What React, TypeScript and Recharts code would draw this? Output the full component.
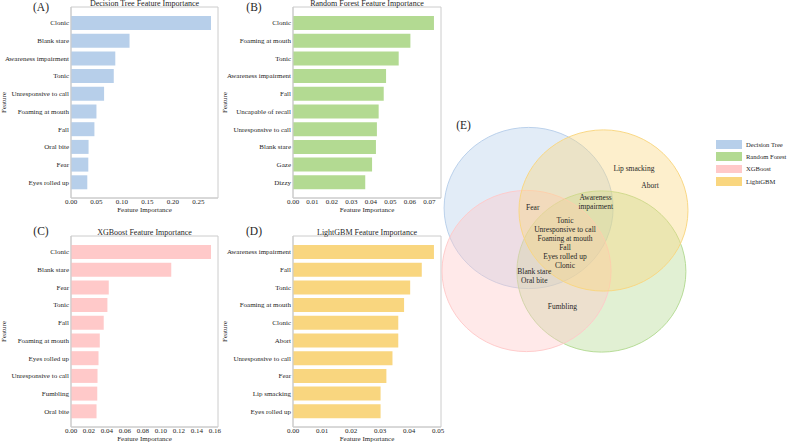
import React from 'react';
import { BarChart, Bar, XAxis, YAxis, CartesianGrid, ScatterChart, Scatter, Legend } from 'recharts';

const FONT = '"Liberation Serif", "Times New Roman", Times, serif';
const INK = '#262626';
const SPINE = '#cccccc';

// (A) Decision Tree
const dtFeatures = ['Clonic', 'Blank stare', 'Awareness impairment', 'Tonic', 'Unresponsive to call', 'Foaming at mouth', 'Fall', 'Oral bite', 'Fear', 'Eyes rolled up'];
const dtImportance = [0.275, 0.115, 0.087, 0.084, 0.065, 0.05, 0.046, 0.0345, 0.034, 0.032];
const dtTicks = [0, 0.05, 0.1, 0.15, 0.2, 0.25];

// (B) Random Forest
const rfFeatures = ['Clonic', 'Foaming at mouth', 'Tonic', 'Awareness impairment', 'Fall', 'Uncapable of recall', 'Unresponsive to call', 'Blank stare', 'Gaze', 'Dizzy'];
const rfImportance = [0.0724, 0.0603, 0.0543, 0.0478, 0.0466, 0.044, 0.0431, 0.0426, 0.0406, 0.0371];
const rfTicks = [0, 0.01, 0.02, 0.03, 0.04, 0.05, 0.06, 0.07];

// (C) XGBoost
const xgbFeatures = ['Clonic', 'Blank stare', 'Fear', 'Tonic', 'Fall', 'Foaming at mouth', 'Eyes rolled up', 'Unresponsive to call', 'Fumbling', 'Oral bite'];
const xgbImportance = [0.1557, 0.1115, 0.042, 0.0405, 0.0364, 0.032, 0.0306, 0.0295, 0.0292, 0.0284];
const xgbTicks = [0, 0.02, 0.04, 0.06, 0.08, 0.1, 0.12, 0.14, 0.16];

// (D) LightGBM
const lgbmFeatures = ['Awareness impairment', 'Fall', 'Tonic', 'Foaming at mouth', 'Clonic', 'Abort', 'Unresponsive to call', 'Fear', 'Lip smacking', 'Eyes rolled up'];
const lgbmImportance = [0.0486, 0.0444, 0.0404, 0.0383, 0.0363, 0.0363, 0.0343, 0.0322, 0.0302, 0.0302];
const lgbmTicks = [0, 0.01, 0.02, 0.03, 0.04, 0.05];

const models = ['Decision Tree', 'Random Forest', 'XGBoost', 'LightGBM'];
const modelColors = ['#b7cfea', '#b3da92', '#ffc9c9', '#f9d67f'];

// (E) features shared between the top-10 lists, grouped by Venn region
const vennRegions = [
  ['Lip smacking'],
  ['Abort'],
  ['Awareness', 'impairment'],
  ['Fear'],
  ['Tonic', 'Unresponsive to call', 'Foaming at mouth', 'Fall', 'Eyes rolled up', 'Clonic'],
  ['Blank stare', 'Oral bite'],
  ['Fumbling'],
];

// venn layout (data units of the venn plot)
const VX = 26;
const VY = 24.8;
const VENN_W = 352;
const VENN_H = 248;
const vennCircles = [
  { x: 3.6, y: 6.29 },
  { x: 6.4, y: 3.73 },
  { x: 3.52, y: 3.75 },
  { x: 6.48, y: 6.19 },
];
const VENN_R = 3.25;
const vennLabelSpots = [
  { x: 7.65, y: 7.9 },
  { x: 8.27, y: 7.22 },
  { x: 6.18, y: 6.55 },
  { x: 3.76, y: 6.32 },
  { x: 5.0, y: 4.88 },
  { x: 3.82, y: 3.56 },
  { x: 4.9, y: 2.31 },
];
const LINE_H = 8.9;

const XTick = (props: any) => {
  const { x, y, payload } = props;
  return (
    <text x={x} y={y} dy="0.71em" textAnchor="middle" fontSize={7} fill={INK} fontFamily={FONT}>
      {Number(payload.value).toFixed(2)}
    </text>
  );
};

const YTick = (props: any) => {
  const { x, y, payload } = props;
  return (
    <text x={x} y={y} dy="0.35em" textAnchor="end" fontSize={7} fill={INK} fontFamily={FONT}>
      {payload.value}
    </text>
  );
};

const frameH = (p: any) => [p.offset.top, p.offset.top + p.offset.height];
const frameV = (p: any) => [p.offset.left, p.offset.left + p.offset.width];

type PanelProps = {
  title: string;
  letter: string;
  letterPos: [number, number];
  features: string[];
  values: number[];
  ticks: number[];
  color: string;
  left: number;
  top: number;
  width: number;
  yAxisWidth: number;
};

const Panel = ({ title, letter, letterPos, features, values, ticks, color, left, top, width, yAxisWidth }: PanelProps) => {
  const data = features.map((f, i) => ({ feature: f, value: values[i] }));
  const plotCenter = left + yAxisWidth + (width - yAxisWidth - 7) / 2;
  return (
    <>
      <div style={{ position: 'absolute', left, top }}>
        <BarChart width={width} height={215} data={data} layout="vertical" margin={{ top: 7, right: 7, bottom: 0, left: 0 }}>
          <CartesianGrid
            stroke={SPINE}
            horizontalCoordinatesGenerator={frameH}
            verticalCoordinatesGenerator={frameV}
          />
          <XAxis
            type="number"
            dataKey="value"
            domain={[0, (m: number) => m * 1.05]}
            ticks={ticks}
            interval={0}
            height={17}
            tickSize={0}
            tickMargin={1}
            tickLine={false}
            axisLine={{ stroke: SPINE }}
            tick={<XTick />}
            label={{ value: 'Feature Importance', position: 'insideBottom', offset: 3, fontSize: 7, fill: INK, fontFamily: FONT }}
          />
          <YAxis
            type="category"
            dataKey="feature"
            width={yAxisWidth}
            interval={0}
            tickSize={0}
            tickMargin={2}
            tickLine={false}
            axisLine={{ stroke: SPINE }}
            padding={{ top: 7, bottom: 7 }}
            tick={<YTick />}
            label={(p: any) => {
              const vb = p.viewBox || { x: 0, y: 7, height: 191 };
              const cx = vb.x + 6;
              const cy = vb.y + vb.height / 2;
              return (
                <text x={cx} y={cy} transform={`rotate(-90, ${cx}, ${cy})`} textAnchor="middle" fontSize={7} fill={INK} fontFamily={FONT}>
                  Feature
                </text>
              );
            }}
          />
          <Bar dataKey="value" fill={color} barSize={14} isAnimationActive={false} />
        </BarChart>
      </div>
      <div
        style={{
          position: 'absolute',
          left: plotCenter,
          top: top + 0.3,
          transform: 'translateX(-50%)',
          fontSize: 8,
          lineHeight: 1,
          color: INK,
          fontFamily: FONT,
          whiteSpace: 'nowrap',
        }}
      >
        {title}
      </div>
      <div
        style={{
          position: 'absolute',
          left: letterPos[0],
          top: letterPos[1],
          transform: 'translate(-50%, -50%)',
          fontSize: 11.5,
          lineHeight: 1,
          color: INK,
          fontFamily: FONT,
          whiteSpace: 'nowrap',
        }}
      >
        {letter}
      </div>
    </>
  );
};

const VennLegend = () => (
  <div style={{ fontFamily: FONT, fontSize: 6.6, color: INK }}>
    {models.map((m, i) => (
      <div key={m} style={{ display: 'flex', alignItems: 'center', height: 12.4 }}>
        <span style={{ display: 'inline-block', width: 26.6, height: 8.7, background: modelColors[i], marginRight: 3.7 }} />
        <span style={{ whiteSpace: 'nowrap' }}>{m}</span>
      </div>
    ))}
  </div>
);

const App = () => {
  const labelData = vennRegions.map((lines, i) => ({ ...vennLabelSpots[i], lines }));
  return (
    <div style={{ position: 'absolute', left: 0, top: 0, width: 787, height: 443, background: '#fff', overflow: 'hidden', fontFamily: FONT }}>
      <Panel title="Decision Tree Feature Importance" letter="(A)" letterPos={[41, 8.3]} features={dtFeatures} values={dtImportance} ticks={dtTicks} color={modelColors[0]} left={0} top={0} width={225} yAxisWidth={71} />
      <Panel title="Random Forest Feature Importance" letter="(B)" letterPos={[254, 8]} features={rfFeatures} values={rfImportance} ticks={rfTicks} color={modelColors[1]} left={221} top={0} width={227} yAxisWidth={72} />
      <Panel title="XGBoost Feature Importance" letter="(C)" letterPos={[41, 231.7]} features={xgbFeatures} values={xgbImportance} ticks={xgbTicks} color={modelColors[2]} left={0} top={229} width={225} yAxisWidth={71} />
      <Panel title="LightGBM Feature Importance" letter="(D)" letterPos={[254, 231.7]} features={lgbmFeatures} values={lgbmImportance} ticks={lgbmTicks} color={modelColors[3]} left={221} top={229} width={227} yAxisWidth={72} />

      <div style={{ position: 'absolute', left: 435, top: 116 }}>
        <ScatterChart width={VENN_W} height={VENN_H} margin={{ top: 0, right: 0, bottom: 0, left: 0 }}>
          <XAxis type="number" dataKey="x" domain={[0, VENN_W / VX]} hide />
          <YAxis type="number" dataKey="y" domain={[0, VENN_H / VY]} hide />
          {models.map((m, i) => (
            <Scatter
              key={m}
              name={m}
              data={[vennCircles[i]]}
              fill={modelColors[i]}
              isAnimationActive={false}
              shape={(p: any) => (
                <ellipse
                  cx={p.cx}
                  cy={p.cy}
                  rx={VENN_R * VX}
                  ry={VENN_R * VY}
                  fill={modelColors[i]}
                  fillOpacity={0.4}
                  stroke={modelColors[i]}
                  strokeOpacity={0.95}
                  strokeWidth={1}
                />
              )}
            />
          ))}
          <Scatter
            name="labels"
            legendType="none"
            data={labelData}
            isAnimationActive={false}
            shape={(p: any) => {
              const lines: string[] = p.payload.lines;
              return (
                <text x={p.cx} y={p.cy} textAnchor="middle" fontSize={7.5} fill={INK} fontFamily={FONT}>
                  {lines.map((l, k) => (
                    <tspan key={k} x={p.cx} dy={k === 0 ? -((lines.length - 1) / 2) * LINE_H + 2.6 : LINE_H}>
                      {l}
                    </tspan>
                  ))}
                </text>
              );
            }}
          />
          <Legend layout="vertical" align="center" verticalAlign="middle" wrapperStyle={{ left: 280.7, top: 22, width: 'auto' }} content={() => <VennLegend />} />
        </ScatterChart>
      </div>
      <div style={{ position: 'absolute', left: 463.5, top: 125.5, transform: 'translate(-50%, -50%)', fontSize: 11.5, lineHeight: 1, color: INK, fontFamily: FONT }}>
        (E)
      </div>
    </div>
  );
};

export default App;
